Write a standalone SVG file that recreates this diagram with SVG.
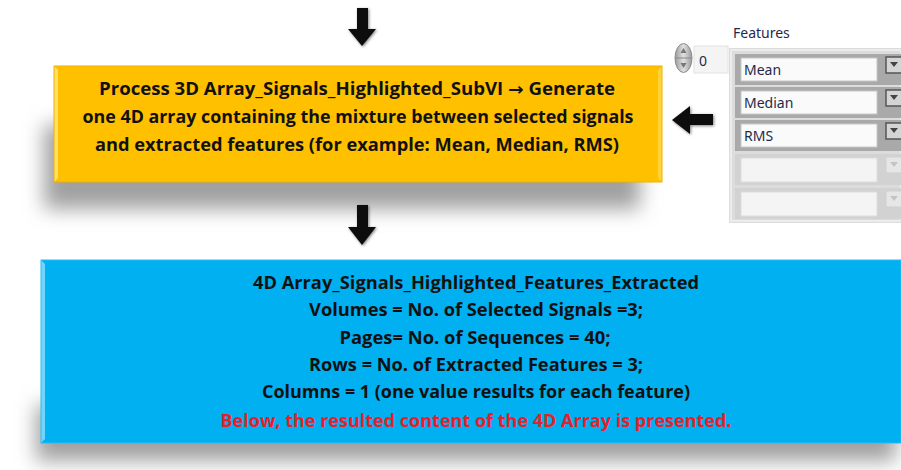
<svg xmlns="http://www.w3.org/2000/svg" width="901" height="470" viewBox="0 0 901 470">
  <defs>
    <filter id="softShadow" x="-20%" y="-50%" width="140%" height="200%">
      <feGaussianBlur stdDeviation="10"/>
    </filter>
    <filter id="arrowShadow" x="-50%" y="-50%" width="200%" height="200%">
      <feGaussianBlur in="SourceAlpha" stdDeviation="1.5"/>
      <feOffset dx="1" dy="1" result="b"/>
      <feComponentTransfer><feFuncA type="linear" slope="0.5"/></feComponentTransfer>
      <feMerge><feMergeNode/><feMergeNode in="SourceGraphic"/></feMerge>
    </filter>
    <linearGradient id="spinGrad" x1="0" y1="0" x2="1" y2="0">
      <stop offset="0" stop-color="#9a9a9a"/>
      <stop offset="0.5" stop-color="#e0e0e0"/>
      <stop offset="1" stop-color="#9a9a9a"/>
    </linearGradient>
  </defs>
  <style>
    .txt { font-family: "Open Sans", "Liberation Sans", Arial, sans-serif; font-weight: bold; font-size: 17px; fill: #111; text-anchor: middle; }
    .sym { font-family: "DejaVu Sans", sans-serif; }
    .red { fill: #e81f2a; }
    .ui { font-family: "Segoe UI", "Noto Sans", "Liberation Sans", sans-serif; font-size: 14px; fill: #1f2a4a; }
    .arrow { fill: #0d0d0d; filter: url(#arrowShadow); }
    .field { fill: #fafafa; stroke: #c8c8c8; stroke-width: 1; }
    .fieldOff { fill: #f4f4f4; stroke: #dcdcdc; stroke-width: 1; }
    .rowOn { fill: #a9a9a9; }
    .btn { fill: #d4d4d4; stroke: #555; stroke-width: 1.5; }
    .btnOff { fill: #e6e6e6; stroke: #cfcfcf; stroke-width: 1; }
  </style>

  <rect width="901" height="470" fill="#ffffff"/>

  <!-- process box -->
  <g id="process">
    <rect x="44" y="125" width="596" height="84" fill="#a0a0a0" filter="url(#softShadow)"/>
    <rect x="54" y="66" width="608" height="116" fill="#ffc000"/>
    <polygon points="54,66 58,70 58,178 54,182" fill="#ffe066"/>
    <polygon points="662,66 658,70 658,178 662,182" fill="#ffd23a"/>
    <rect x="54" y="66" width="608" height="116" fill="none" stroke="#f2b200" stroke-width="1"/>
    <text class="txt" x="357" y="95" textLength="516" lengthAdjust="spacingAndGlyphs">Process 3D Array_Signals_Highlighted_SubVI <tspan class="sym">→</tspan> Generate</text>
    <text class="txt" x="358" y="123" textLength="551" lengthAdjust="spacingAndGlyphs">one 4D array containing the mixture between selected signals</text>
    <text class="txt" x="357" y="151" textLength="524" lengthAdjust="spacingAndGlyphs">and extracted features (for example: Mean, Median, RMS)</text>
  </g>

  <!-- result box -->
  <g id="result">
    <rect x="36" y="405" width="860" height="56" fill="#a0a0a0" filter="url(#softShadow)"/>
    <rect x="41" y="260" width="860" height="183" fill="#00b0f0"/>
    <polygon points="41,260 45,264 45,439 41,443" fill="#6fd6ff"/>
    <rect x="41" y="260" width="860" height="183" fill="none" stroke="#29bdf2" stroke-width="1"/>
    <text class="txt" x="476" y="289" textLength="446" lengthAdjust="spacingAndGlyphs">4D Array_Signals_Highlighted_Features_Extracted</text>
    <text class="txt" x="476" y="316" textLength="334" lengthAdjust="spacingAndGlyphs">Volumes = No. of Selected Signals =3;</text>
    <text class="txt" x="475" y="344" textLength="271" lengthAdjust="spacingAndGlyphs">Pages= No. of Sequences = 40;</text>
    <text class="txt" x="476" y="371" textLength="334" lengthAdjust="spacingAndGlyphs">Rows = No. of Extracted Features = 3;</text>
    <text class="txt" x="476" y="398" textLength="428" lengthAdjust="spacingAndGlyphs">Columns = 1 (one value results for each feature)</text>
    <text class="txt red" x="476" y="427" textLength="511" lengthAdjust="spacingAndGlyphs">Below, the resulted content of the 4D Array is presented.</text>
  </g>

  <!-- features control -->
  <g id="features">
    <text class="ui" x="733" y="38" font-size="13" fill="#222">Features</text>
    <!-- index spinner -->
    <rect x="694" y="46" width="34" height="27" fill="#f4f4f4" stroke="#e2e2e2"/>
    <ellipse cx="683.5" cy="58" rx="8.5" ry="14.5" fill="url(#spinGrad)" stroke="#8a8a8a"/>
    <line x1="676" y1="58" x2="691" y2="58" stroke="#8a8a8a"/>
    <path d="M683.5 48 l-3 5 h6 z M683.5 68 l-3 -5 h6 z" fill="#777"/>
    <text class="ui" x="699" y="66" font-size="14" fill="#333">0</text>
    <!-- array frame -->
    <rect x="729" y="48" width="172" height="175" fill="#dcdcdc"/>
    <rect x="731" y="50" width="170" height="171" fill="none" stroke="#ececec" stroke-width="2"/>
    <!-- enabled rows -->
    <rect class="rowOn" x="735" y="54" width="166" height="31"/>
    <rect class="rowOn" x="735" y="87" width="166" height="31"/>
    <rect class="rowOn" x="735" y="120" width="166" height="31"/>
    <rect class="field" x="741" y="58" width="136" height="23"/>
    <rect class="field" x="741" y="91" width="136" height="23"/>
    <rect class="field" x="741" y="124" width="136" height="23"/>
    <text class="ui" x="744" y="75">Mean</text>
    <text class="ui" x="744" y="108">Median</text>
    <text class="ui" x="744" y="141">RMS</text>
    <rect class="btn" x="886" y="57" width="16" height="16"/>
    <rect class="btn" x="886" y="90" width="16" height="16"/>
    <rect class="btn" x="886" y="123" width="16" height="16"/>
    <path d="M890 62 h8 l-4 5 z M890 95 h8 l-4 5 z M890 128 h8 l-4 5 z" fill="#444"/>
    <!-- disabled rows -->
    <rect x="735" y="154" width="166" height="31" fill="#d2d2d2"/>
    <rect x="735" y="188" width="166" height="31" fill="#d2d2d2"/>
    <rect class="fieldOff" x="741" y="158" width="136" height="24"/>
    <rect class="fieldOff" x="741" y="192" width="136" height="24"/>
    <rect class="btnOff" x="886" y="157" width="16" height="16"/>
    <rect class="btnOff" x="886" y="191" width="16" height="16"/>
    <path d="M890 162 h8 l-4 5 z M890 196 h8 l-4 5 z" fill="#c4c4c4"/>
  </g>

  <!-- connectors -->
  <g id="connectors">
    <path class="arrow" d="M357 8 h11 v21 h8 l-14 17 l-14 -17 h9 z"/>
    <path class="arrow" d="M357 205 h11 v22 h8 l-14 18 l-14 -18 h9 z"/>
    <path class="arrow" d="M713 114 v11 h-23 v9 l-18 -14 l18 -14 v8 z"/>
  </g>
</svg>
